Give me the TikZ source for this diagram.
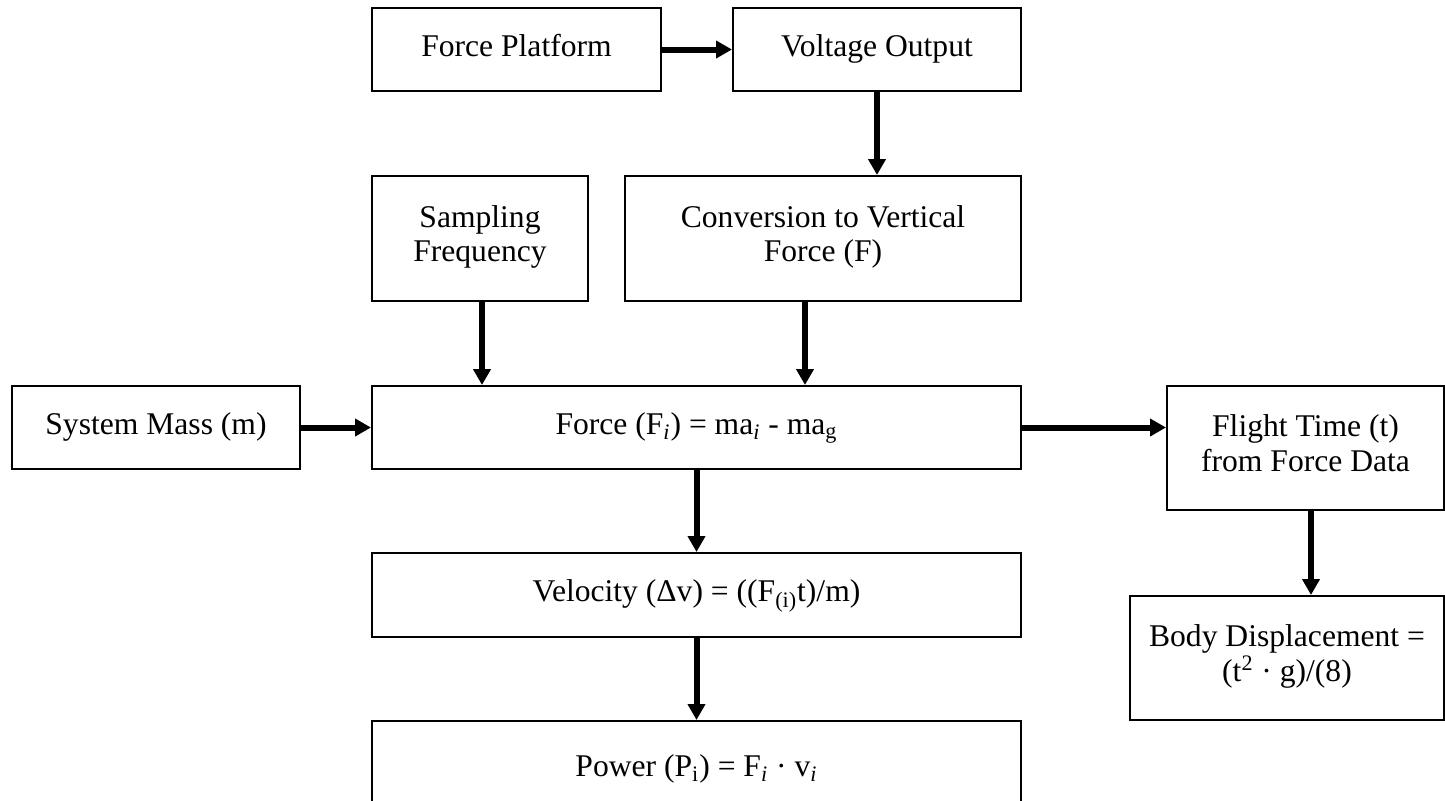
\documentclass[tikz,border=0pt]{standalone}
\usepackage{fontspec}
\setmainfont{Liberation Serif}
\usetikzlibrary{arrows.meta}
\begin{document}
\begin{tikzpicture}[x=0.5pt,y=-0.5pt,
  blk/.style={draw, line width=1pt, inner sep=0pt, align=center,
    font=\fontsize{15.8}{17.2}\selectfont,
    execute at begin node=\strut, execute at end node=\strut},
  arr/.style={line width=3pt, -{Triangle[length=8pt,width=8.5pt]}}]
\useasboundingbox (0,0) rectangle (1445,800);
\clip (0,0) rectangle (1445,800);

% top row
\node[blk, minimum width=144.5pt, minimum height=41.5pt] (fp) at (516.5,49.5) {Force Platform};
\node[blk, minimum width=144pt, minimum height=41.5pt] (vo) at (877,49.5) {Voltage Output};

% inputs to the force equation
\node[blk, minimum width=108pt, minimum height=62.5pt] (sf) at (480,238.5) {Sampling\\Frequency};
\node[blk, minimum width=198pt, minimum height=62.5pt] (cv) at (823,238.5) {Conversion to Vertical\\Force (F)};
\node[blk, minimum width=144pt, minimum height=41.5pt] (sm) at (156,427.5) {System Mass (m)};

% main chain
\node[blk, minimum width=324.5pt, minimum height=41.5pt] (fo) at (696.5,427.5)
  {Force (F\textsubscript{\textit{i}}) = ma\textsubscript{\textit{i}} - ma\textsubscript{g}};
\node[blk, minimum width=324.5pt, minimum height=42pt] (ve) at (696.5,595)
  {Velocity (Δv) = ((F\textsubscript{(i)}t)/m)};
\node[blk, minimum width=324.5pt, minimum height=49pt] (pw) at (696.5,770)
  {Power (P\textsubscript{i}) = F\textsubscript{\textit{i}} · v\textsubscript{\textit{i}}};

% flight-time branch
\node[blk, minimum width=138.5pt, minimum height=62pt] (ft) at (1305.5,448) {Flight Time (t)\\from Force Data};
\node[blk, minimum width=157pt, minimum height=62pt] (bd) at (1287,658)
  {Body Displacement =\\(t\textsuperscript{2} · g)/(8)};

% connectors
\draw[arr] (fp.east) -- (vo.west);
\draw[arr] (vo.south) -- (vo.south |- cv.north);
\draw[arr] ([xshift=1pt]sf.south) -- ([xshift=1pt]sf.south |- fo.north);
\draw[arr] ([xshift=-9pt]cv.south) -- ([xshift=-9pt]cv.south |- fo.north);
\draw[arr] (sm.east) -- (fo.west);
\draw[arr] (fo.south) -- (ve.north);
\draw[arr] (ve.south) -- (pw.north);
\draw[arr] (fo.east) -- (fo.east -| ft.west);
\draw[arr] ([xshift=2.75pt]ft.south) -- ([xshift=2.75pt]ft.south |- bd.north);
\end{tikzpicture}
\end{document}
